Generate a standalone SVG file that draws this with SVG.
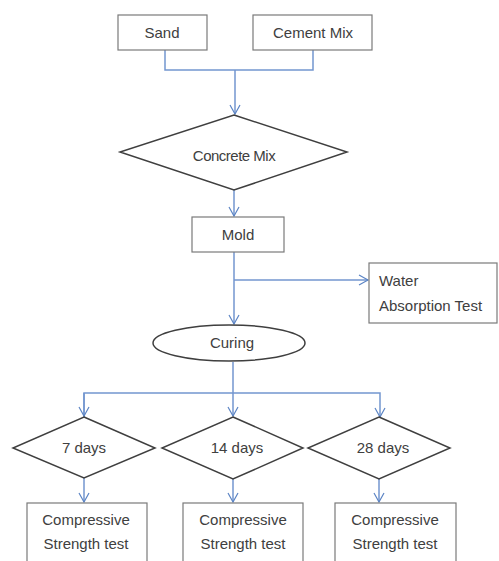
<svg xmlns="http://www.w3.org/2000/svg" width="499" height="561" viewBox="0 0 499 561">
<defs>
<marker id="arr" markerWidth="12" markerHeight="12" refX="10" refY="6" orient="auto" markerUnits="userSpaceOnUse">
<path d="M1,1 L10,6 L1,11" fill="none" stroke="#5b84c4" stroke-width="1.2"/>
</marker>
<style>
.box{fill:#fff;stroke:#7a7a7a;stroke-width:1.2}
.dia{fill:#fff;stroke:#3f3f3f;stroke-width:1.5}
.t{font-family:"Liberation Sans",Arial,sans-serif;font-size:15px;fill:#404040}
.c{text-anchor:middle}
.con{fill:none;stroke:#7396cf;stroke-width:1.5}
</style>
</defs>
<rect width="499" height="561" fill="#fff"/>
<g id="connectors">
<path class="con" d="M165,50 V70 H313 V50"/>
<path class="con" d="M235,70 V114" marker-end="url(#arr)"/>
<path class="con" d="M234,190 V216" marker-end="url(#arr)"/>
<path class="con" d="M234,252 V324" marker-end="url(#arr)"/>
<path class="con" d="M234,280 H368" marker-end="url(#arr)"/>
<path class="con" d="M233,362 V393"/>
<path class="con" d="M84,417 V393 H380 V417" marker-end="url(#arr)"/>
<path class="con" d="M84,393 V416" marker-end="url(#arr)"/>
<path class="con" d="M233,393 V416" marker-end="url(#arr)"/>
<path class="con" d="M84,478 V502" marker-end="url(#arr)"/>
<path class="con" d="M233,479 V502" marker-end="url(#arr)"/>
<path class="con" d="M379,479 V502" marker-end="url(#arr)"/>
</g>
<g id="sand"><rect class="box" x="118" y="15" width="89" height="35"/><text class="t c" x="162" y="38">Sand</text></g>
<g id="cement"><rect class="box" x="253" y="15" width="119" height="35"/><text class="t c" x="313" y="38">Cement Mix</text></g>
<g id="concrete"><polygon class="dia" points="234,115 347,152 234,190 120,152"/><text class="t c" x="234" y="161" letter-spacing="-0.5">Concrete Mix</text></g>
<g id="mold"><rect class="box" x="192" y="217" width="92" height="35"/><text class="t c" x="238" y="240">Mold</text></g>
<g id="water"><rect class="box" x="369" y="263" width="128" height="60"/><text class="t" x="379" y="286">Water</text><text class="t" x="379" y="311">Absorption Test</text></g>
<g id="curing"><ellipse class="dia" cx="229" cy="343" rx="76" ry="18"/><text class="t c" x="232" y="348">Curing</text></g>
<g id="d7"><polygon class="dia" points="84,417 155,448 84,478 13,448"/><text class="t c" x="84" y="453">7 days</text></g>
<g id="d14"><polygon class="dia" points="233,417 303,448 233,479 162,448"/><text class="t c" x="237" y="453">14 days</text></g>
<g id="d28"><polygon class="dia" points="379,417 450,448 379,479 308,448"/><text class="t c" x="383" y="453">28 days</text></g>
<g id="cs1"><rect class="box" x="27" y="503" width="120" height="70"/><text class="t c" x="86" y="525">Compressive</text><text class="t c" x="86" y="549">Strength test</text></g>
<g id="cs2"><rect class="box" x="183" y="503" width="120" height="70"/><text class="t c" x="243" y="525">Compressive</text><text class="t c" x="243" y="549">Strength test</text></g>
<g id="cs3"><rect class="box" x="335" y="503" width="121" height="70"/><text class="t c" x="395" y="525">Compressive</text><text class="t c" x="395" y="549">Strength test</text></g>
</svg>
